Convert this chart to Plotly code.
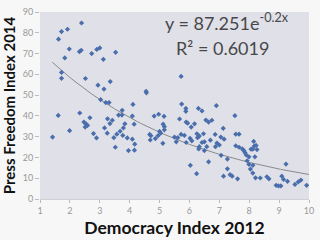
import numpy as np
import plotly.graph_objects as go

democracy = [2.39,1.92,1.72,1.62,1.98,2.32,2.38,1.83,2.73,2.90,3.00,3.12,3.53,1.72,1.72,2.52,3.35,2.94,3.14,3.03,3.20,3.31,4.55,4.56,4.11,
             1.61,2.33,2.67,3.26,3.42,3.34,3.63,3.74,3.75,4.09,4.15,4.82,4.97,5.15,5.12,5.16,5.16,2.47,2.55,2.51,2.59,3.84,3.79,
             1.42,1.99,2.79,2.89,3.16,3.25,3.52,3.47,3.57,3.68,3.77,3.92,4.09,4.17,3.96,4.16,4.67,4.71,4.69,4.86,4.95,5.04,5.11,5.00,
             5.72,5.74,5.88,5.88,6.30,6.42,6.90,7.52,
             5.67,5.89,5.94,6.06,6.17,6.55,6.64,6.75,7.13,7.55,7.66,5.50,5.61,5.72,5.83,5.56,5.89,6.02,6.08,6.25,6.33,6.27,6.47,6.42,6.50,6.58,6.33,6.31,6.50,6.70,6.92,6.87,7.05,7.16,7.00,6.86,7.06,7.27,7.55,7.66,7.77,7.82,7.86,7.90,8.06,7.99,8.15,8.26,8.17,8.23,8.19,8.12,
             6.03,6.24,6.64,7.27,7.36,7.43,7.14,7.61,7.93,7.99,8.12,8.04,8.12,8.21,8.37,8.59,8.66,9.23,9.09,9.15,8.90,8.98,9.06,9.28,9.53,9.64,9.73,9.92]
press = [84.7,81.7,80.6,76.9,72.2,70.9,71.6,67.9,70.0,72.0,72.7,67.2,70.6,60.9,58.1,58.0,56.5,54.8,52.9,47.8,46.4,46.4,51.8,51.1,45.5,
         40.2,41.4,39.1,38.6,37.9,36.3,40.4,40.4,42.7,39.9,36.0,39.9,40.8,39.8,36.0,34.8,33.3,37.0,36.0,34.6,35.4,36.2,34.2,
         29.8,32.9,31.5,29.4,34.2,31.7,24.9,29.5,31.2,32.6,30.6,29.4,28.8,26.4,23.3,23.5,31.1,30.5,28.4,29.1,30.5,31.7,26.8,32.5,
         59.0,45.7,43.6,42.2,43.6,42.4,44.9,40.1,
         38.5,37.0,36.5,34.6,36.2,38.0,37.0,37.9,34.0,31.2,31.2,29.8,29.5,31.1,30.6,27.5,27.2,29.2,28.0,31.4,30.3,29.5,31.4,27.2,27.5,25.2,25.2,24.1,23.3,28.3,26.9,25.2,29.8,28.8,26.0,31.1,21.0,19.2,25.6,24.9,24.1,23.3,22.3,21.2,24.0,20.3,27.7,23.8,25.5,25.8,20.3,24.0,
         16.2,12.2,17.9,14.5,11.7,11.0,11.0,9.7,18.4,16.7,16.2,14.4,12.5,10.2,10.1,10.7,9.7,16.8,11.0,9.4,6.6,6.3,6.3,8.5,7.0,8.2,9.1,6.6]

fit_a = 87.251
fit_b = -0.2
fit_x = np.linspace(1.41, 10, 100)
fit_y = fit_a * np.exp(fit_b * fit_x)

x_ticks = list(range(1, 11))
y_ticks = list(range(0, 91, 10))

fig = go.Figure()
fig.add_trace(go.Scatter(x=fit_x, y=fit_y, mode="lines",
                         line=dict(color="#8a8a8a", width=1), hoverinfo="skip"))
fig.add_trace(go.Scatter(x=democracy, y=press, mode="markers",
                         marker=dict(symbol="diamond", size=4, color="#4a6eab")))

fig.add_annotation(x=7.26, y=85.0, xref="x", yref="y", showarrow=False,
                   text="y = 87.251e<sup>-0.2x</sup>",
                   font=dict(family="Lato", size=18, color="#484848"))
fig.add_annotation(x=7.12, y=72.5, xref="x", yref="y", showarrow=False,
                   text="R² = 0.6019",
                   font=dict(family="Lato", size=18, color="#484848"))

fig.update_layout(
    width=320, height=240,
    margin=dict(l=39, r=9, t=6, b=40),
    paper_bgcolor="#f7f7f7", plot_bgcolor="#e0e1e8",
    showlegend=False,
    xaxis=dict(range=[1, 10], tickvals=x_ticks, ticks="outside", ticklen=3,
               tickcolor="#bbbbbb", showgrid=False, zeroline=False,
               showline=True, linecolor="#d0d0d4",
               tickfont=dict(family="Lato", size=9, color="#999999"),
               title=dict(text="<b>Democracy Index 2012</b>", standoff=6,
                          font=dict(family="Lato", size=17.5, color="#111111"))),
    yaxis=dict(range=[0, 90], tickvals=y_ticks, ticks="outside", ticklen=4,
               tickcolor="#bbbbbb", showgrid=False, zeroline=False,
               tickfont=dict(family="Lato", size=9, color="#999999"),
               title=dict(text="<b>Press Freedom Index 2014</b>", standoff=6,
                          font=dict(family="Lato", size=15, color="#111111"))),
)

fig.write_html("out.html")
